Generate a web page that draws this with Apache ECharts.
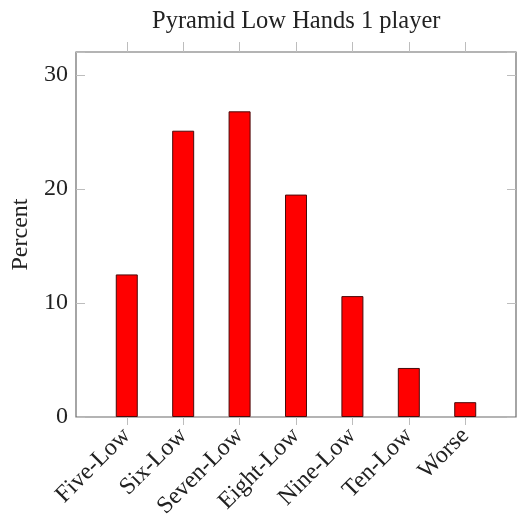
<!DOCTYPE html>
<html>
<head>
<meta charset="utf-8">
<script src="https://cdn.jsdelivr.net/npm/echarts@6/dist/echarts.min.js"></script>
<style>
html,body{margin:0;padding:0;background:#fff;}
#chart{width:519px;height:515px;}
</style>
</head>
<body>
<div id="chart"></div>
<script>
const categories = ['Five-Low','Six-Low','Seven-Low','Eight-Low','Nine-Low','Ten-Low','Worse'];
const percents = [12.5, 25.1, 26.8, 19.5, 10.6, 4.3, 1.3];
const yTicks = [0, 10, 20, 30];
const titleText = 'Pyramid Low Hands 1 player';
const yName = 'Percent';

const positions = categories.map((c, i) => i);
const font = 'Liberation Serif';
const chart = echarts.init(document.getElementById('chart'), null, {renderer: 'canvas'});
const xCommon = {
  type: 'value', min: -0.9, max: categories.length - 1 + 0.9,
  splitLine: {show: false}, axisLine: {show: false, onZero: false}
};
const yCommon = {
  type: 'value', min: 0, max: 32, interval: 10,
  splitLine: {show: false}, axisLine: {show: false, onZero: false}
};
chart.setOption({
  animation: false,
  backgroundColor: '#fff',
  title: {
    text: titleText, left: 147, top: 4,
    textStyle: {fontFamily: font, fontSize: 24.5, fontWeight: 'normal', color: '#222'}
  },
  grid: {left: 76, right: 3, top: 52, bottom: 98, show: true, borderColor: '#6b6b6b', borderWidth: 1.2,
         containLabel: false, outerBoundsMode: 'none'},
  xAxis: [
    Object.assign({}, xCommon, {
      position: 'bottom',
      axisTick: {show: true, inside: false, length: 8, customValues: positions, lineStyle: {color: '#bdbdbd'}},
      axisLabel: {
        customValues: positions, rotate: 45, margin: 15,
        formatter: v => categories[Math.round(v)],
        fontFamily: font, fontSize: 24, color: '#222'
      }
    }),
    Object.assign({}, xCommon, {
      position: 'top',
      axisTick: {show: true, inside: false, length: 10, customValues: positions, lineStyle: {color: '#bdbdbd'}},
      axisLabel: {show: false}
    })
  ],
  yAxis: [
    Object.assign({}, yCommon, {
      position: 'left',
      name: yName, nameLocation: 'middle', nameGap: 37, nameRotate: 90,
      nameTextStyle: {fontFamily: font, fontSize: 24, color: '#222'},
      axisTick: {show: true, inside: true, length: 9, lineStyle: {color: '#bdbdbd'}},
      axisLabel: {customValues: yTicks, margin: 8, fontFamily: font, fontSize: 24, color: '#222'}
    }),
    Object.assign({}, yCommon, {
      position: 'right',
      axisTick: {show: true, inside: true, length: 9, lineStyle: {color: '#bdbdbd'}},
      axisLabel: {show: false}
    })
  ],
  series: [{
    type: 'bar',
    xAxisIndex: 0, yAxisIndex: 0,
    barWidth: 22,
    data: categories.map((c, i) => [i, percents[i]]),
    itemStyle: {color: '#ff0000', borderColor: '#4a0a0a', borderWidth: 1}
  }]
});
</script>
</body>
</html>
